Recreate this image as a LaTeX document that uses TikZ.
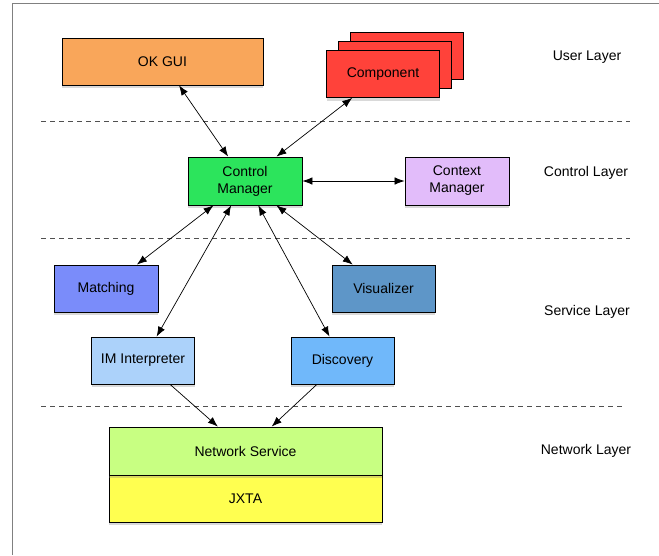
\documentclass[tikz,border=0pt]{standalone}
\usepackage{fontspec}
\setmainfont{Liberation Sans}
\usetikzlibrary{arrows.meta, shadows}
\definecolor{guiorange}{RGB}{249,166,90}
\definecolor{compred}{RGB}{255,66,58}
\definecolor{ctrlgreen}{RGB}{44,228,92}
\definecolor{ctxlilac}{RGB}{226,188,250}
\definecolor{matchblue}{RGB}{122,140,250}
\definecolor{visblue}{RGB}{94,150,200}
\definecolor{imblue}{RGB}{172,210,250}
\definecolor{discblue}{RGB}{112,184,250}
\definecolor{netgreen}{RGB}{200,255,130}
\definecolor{jxtayellow}{RGB}{255,255,80}
\definecolor{gray80}{RGB}{80,80,80}

\tikzset{
  box/.style={draw=black, line width=0.8pt, inner sep=0pt, align=center,
    minimum width=103pt, minimum height=47pt,
    drop shadow={shadow xshift=0pt, shadow yshift=-3pt, opacity=0.3}},
  link/.style={line width=0.7pt, {Latex[length=10pt,width=7.5pt]}-{Latex[length=10pt,width=7.5pt]}},
  oneway/.style={line width=0.7pt, -{Latex[length=10pt,width=7.5pt]}},
  layerline/.style={draw=gray80, line width=0.8pt, dash pattern=on 5pt off 4pt},
  layer/.style={font=\fontsize{14}{16}\selectfont}
}

\begin{document}
\begin{tikzpicture}[x=1pt, y=-1pt, font=\fontsize{14}{17}\selectfont]
    \useasboundingbox (0,0) rectangle (659,555);
    \draw[gray, line width=1pt] (659,3) -- (12,3) -- (12,555);

    % layer separators
    \draw[layerline] (41,121) -- (630,121);
    \draw[layerline] (41,238) -- (630,238);
    \draw[layerline] (41,406) -- (622,406);

    % user layer
    \node[box, fill=guiorange, minimum width=201pt] (gui) at (162.5,61.5) {OK GUI};
    \node[box, fill=compred, minimum width=113pt,
      double copy shadow={shadow xshift=12pt, shadow yshift=9pt}] (comp) at (383,74) {Component};

    % control layer
    \node[box, fill=ctrlgreen, minimum width=114pt, minimum height=48pt] (ctrl) at (245,181) {Control\\Manager};
    \node[box, fill=ctxlilac, minimum width=104pt, minimum height=48pt] (ctx) at (457,181) {Context\\Manager};

    % service layer
    \node[box, fill=matchblue, minimum width=104pt] (match) at (106,288.5) {Matching};
    \node[box, fill=visblue] (vis) at (383.5,288.5) {Visualizer};
    \node[box, fill=imblue] (im) at (143,360.5) {IM Interpreter};
    \node[box, fill=discblue] (disc) at (342.5,360.5) {Discovery};

    % network layer
    \node[box, fill=jxtayellow, minimum width=273pt] (jxta) at (245.5,498.5) {JXTA};
    \node[box, fill=netgreen, minimum width=273pt, minimum height=48pt] (net) at (245.5,451) {Network Service};

    % layer names
    \node[layer] (userl) at (587,57) {User Layer};
    \node[layer] (ctrll) at (586,173) {Control Layer};
    \node[layer] (servl) at (587,312) {Service Layer};
    \node[layer] (netl) at (586,451) {Network Layer};

    % connections
    \draw[link] (gui) -- (ctrl);
    \draw[link] (comp) -- (ctrl);
    \draw[link] (ctrl) -- (ctx);
    \draw[link] (ctrl) -- (match);
    \draw[link] (ctrl) -- (im);
    \draw[link] (ctrl) -- (disc);
    \draw[link] (ctrl) -- (vis);
    \draw[oneway] (im) -- (net);
    \draw[oneway] (disc) -- (net);
\end{tikzpicture}
\end{document}
